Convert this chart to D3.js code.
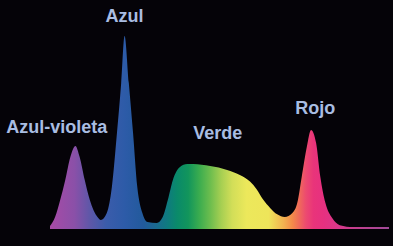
<!DOCTYPE html>
<html>
<head>
<meta charset="utf-8">
<script src="https://cdn.jsdelivr.net/npm/d3@7"></script>
<style>
  html, body { margin: 0; padding: 0; background: #050308; }
  svg { display: block; }
  .label { font-family: "Liberation Sans", Arial, sans-serif; font-weight: bold; font-size: 18px; fill: #a9bde2; }
</style>
</head>
<body>
<svg width="393" height="246"></svg>
<script>
// spectrum of a white LED-like source: wavelength (nm) vs relative intensity
var wavelengths = [380, 386, 392, 398, 404, 410, 415, 421, 427, 436, 440, 447, 453, 459, 464, 468, 473, 478, 483, 489, 495, 506, 513, 519, 525, 533, 542, 549, 569, 589, 604, 616, 624, 631, 640, 648, 657, 666, 672, 677, 683, 688, 694, 699, 705, 713, 722, 738, 780];
var intensity   = [1.6, 6.2, 15, 25.4, 37.3, 43, 37.3, 25.4, 15, 6.2, 4.7, 8.3, 21.8, 49.7, 75.6, 100, 75.6, 49.7, 21.8, 8.3, 3.6, 3.1, 6.2, 15, 25.4, 32, 33.7, 33.7, 32.6, 30.6, 28, 24.6, 20.5, 15.5, 10.8, 7.6, 6.2, 8.3, 14, 27, 42.5, 51.3, 44.6, 27, 13.5, 5.7, 2, 1, 1];

// colour stops along the spectrum
var stopNm     = [380, 409, 427, 446, 468, 490, 505, 518, 530, 543, 556, 569, 582, 595, 612, 638, 656, 666, 674, 682, 691, 703, 721, 745, 780];
var stopColors = ['#a84aa6', '#8a50a8', '#5e57a8', '#3b5cab', '#2d5ba8', '#225a9c', '#1a6a90', '#0f7a80', '#0a8a6a', '#12955c', '#3aac4f', '#6cbd4e', '#a6cf52', '#d2de58', '#ece85b', '#eee55a', '#f2b050', '#f48a4a', '#f06a5a', '#ec4a70', '#e9347a', '#e63080', '#d8388a', '#c0408f', '#a04a98'];

// peak labels
var labelNames = ['Azul-violeta', 'Azul', 'Verde', 'Rojo'];
var labelNm    = [388, 468, 578, 693];
var labelValue = [49.7, 107.3, 46.6, 59.6];

var svg = d3.select('svg');

var x = d3.scaleLinear()
    .domain([380, 780])
    .range([50, 389]);

var y = d3.scaleLinear()
    .domain([0, 100])
    .range([229, 36]);

var data = wavelengths.map(function(d, i) {
    return {nm: d, v: intensity[i]};
});

var defs = svg.append('defs');
var grad = defs.append('linearGradient')
    .attr('id', 'spectrum')
    .attr('gradientUnits', 'userSpaceOnUse')
    .attr('x1', x(380)).attr('x2', x(780))
    .attr('y1', 0).attr('y2', 0);

grad.selectAll('stop')
    .data(stopNm)
    .enter()
    .append('stop')
    .attr('offset', function(d) { return (d - 380) / 400; })
    .attr('stop-color', function(d, i) { return stopColors[i]; });

var area = d3.area()
    .x(function(d) { return x(d.nm); })
    .y0(y(0))
    .y1(function(d) { return y(d.v); })
    .curve(d3.curveMonotoneX);

svg.append('path')
    .datum(data)
    .attr('d', area)
    .attr('fill', 'url(#spectrum)');

svg.selectAll('.label')
    .data(labelNames)
    .enter()
    .append('text')
    .attr('class', 'label')
    .attr('text-anchor', 'middle')
    .attr('x', function(d, i) { return x(labelNm[i]); })
    .attr('y', function(d, i) { return y(labelValue[i]); })
    .text(function(d) { return d; });
</script>
</body>
</html>
